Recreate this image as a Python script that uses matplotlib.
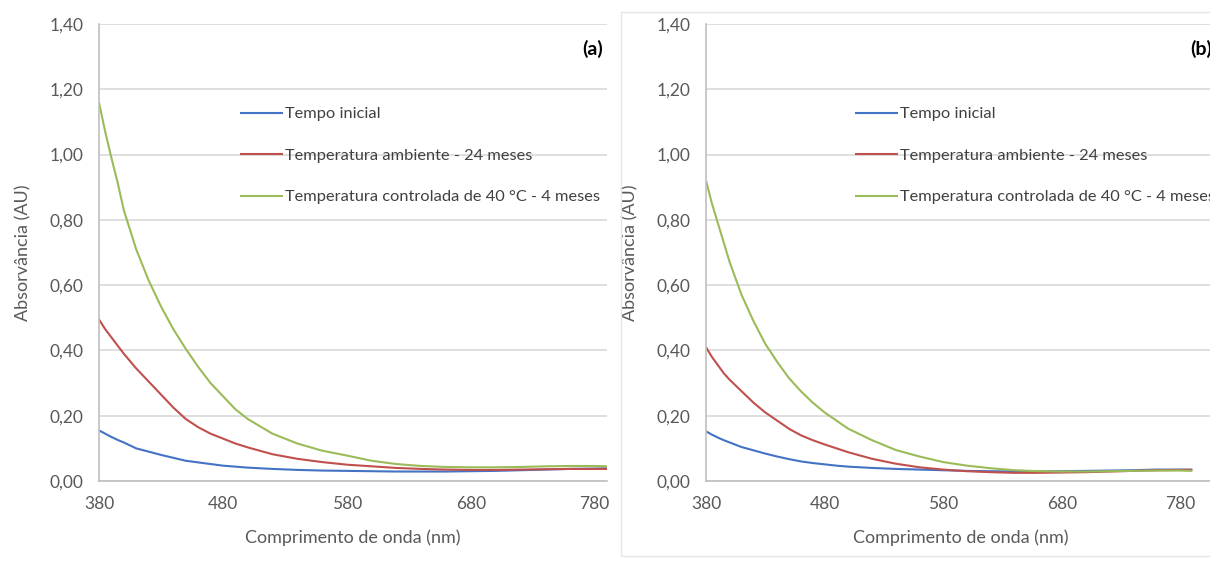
import matplotlib
matplotlib.use("Agg")
import matplotlib.pyplot as plt
from matplotlib.ticker import FuncFormatter, FixedLocator
from matplotlib.patches import Rectangle

# ---------------- data ----------------
wavelength = [380, 385, 390, 395, 400, 410, 420, 430, 440, 450, 460, 470, 480, 490, 500,
              520, 540, 560, 580, 600, 620, 640, 660, 680, 700, 720, 740, 760, 780, 790]

# panel (a)
a_inicial = [0.155, 0.145, 0.135, 0.126, 0.118, 0.100, 0.090, 0.080, 0.071, 0.062, 0.057, 0.052,
             0.047, 0.044, 0.041, 0.037, 0.034, 0.032, 0.031, 0.030, 0.029, 0.029, 0.029, 0.030,
             0.031, 0.033, 0.035, 0.037, 0.038, 0.039]
a_ambiente = [0.495, 0.465, 0.440, 0.415, 0.390, 0.345, 0.305, 0.265, 0.225, 0.190, 0.165, 0.145,
              0.130, 0.115, 0.103, 0.082, 0.068, 0.058, 0.050, 0.045, 0.040, 0.037, 0.035, 0.034,
              0.034, 0.035, 0.036, 0.037, 0.037, 0.037]
a_controlada = [1.160, 1.070, 0.990, 0.915, 0.830, 0.710, 0.615, 0.535, 0.465, 0.405, 0.350, 0.300,
                0.260, 0.220, 0.190, 0.145, 0.115, 0.093, 0.078, 0.062, 0.052, 0.046, 0.043, 0.042,
                0.042, 0.043, 0.045, 0.046, 0.046, 0.045]

# panel (b)
b_inicial = [0.152, 0.142, 0.133, 0.125, 0.118, 0.104, 0.094, 0.084, 0.075, 0.067, 0.060, 0.055,
             0.051, 0.047, 0.044, 0.040, 0.037, 0.035, 0.033, 0.031, 0.030, 0.029, 0.029, 0.030,
             0.031, 0.032, 0.033, 0.035, 0.035, 0.035]
b_ambiente = [0.410, 0.380, 0.355, 0.330, 0.310, 0.275, 0.240, 0.210, 0.185, 0.160, 0.140, 0.125,
              0.112, 0.100, 0.088, 0.068, 0.053, 0.042, 0.035, 0.030, 0.027, 0.025, 0.025, 0.026,
              0.027, 0.029, 0.031, 0.033, 0.034, 0.034]
b_controlada = [0.920, 0.850, 0.790, 0.730, 0.670, 0.570, 0.490, 0.420, 0.365, 0.315, 0.275, 0.240,
                0.210, 0.185, 0.160, 0.125, 0.095, 0.075, 0.058, 0.047, 0.039, 0.033, 0.030, 0.029,
                0.029, 0.030, 0.031, 0.032, 0.032, 0.031]

series_labels = ["Tempo inicial",
                 "Temperatura ambiente - 24 meses",
                 "Temperatura controlada de 40 °C - 4 meses"]
panel_tags = ["(a)", "(b)"]
x_ticks = [380, 480, 580, 680, 780]
y_ticks = [0.0, 0.2, 0.4, 0.6, 0.8, 1.0, 1.2, 1.4]
x_label = "Comprimento de onda (nm)"
y_label = "Absorvância (AU)"

colors = ["#4472C4", "#C0504D", "#9BBB59"]

# ---------------- figure ----------------
plt.rcParams['font.family'] = ['Lato', 'DejaVu Sans']
W, H = 1210, 563
fig = plt.figure(figsize=(W / 100, H / 100), dpi=100)

def px_rect(l, r, t, b):
    return [l / W, 1 - b / H, (r - l) / W, (b - t) / H]

# faint border around panel (b)
fig.patches.append(Rectangle((621 / W, 1 - 556 / H), (1215 - 621) / W, (556 - 12) / H,
                             transform=fig.transFigure, fill=False, edgecolor="#E6E6E6",
                             linewidth=1.0))

ax_a = fig.add_axes(px_rect(99, 607, 24, 481))
ax_b = fig.add_axes(px_rect(706, 1216, 24, 481))

panels = [
    (ax_a, [a_inicial, a_ambiente, a_controlada], (380, 790), 240),
    (ax_b, [b_inicial, b_ambiente, b_controlada], (380, 810), 855),
]

grid_c = "#D9D9D9"
tick_c = "#595959"
fmt = FuncFormatter(lambda v, p: f"{v:.2f}".replace(".", ","))

for i, (ax, data, xl, leg_x) in enumerate(panels):
    for vals, c, lab in zip(data, colors, series_labels):
        ax.plot(wavelength, vals, color=c, lw=1.5, label=lab, solid_capstyle="butt")
    ax.set_xlim(*xl)
    ax.set_ylim(0, 1.4)
    ax.xaxis.set_major_locator(FixedLocator(x_ticks))
    ax.yaxis.set_major_locator(FixedLocator(y_ticks))
    ax.yaxis.set_major_formatter(fmt)
    ax.grid(axis="y", color=grid_c, lw=1.2)
    ax.set_axisbelow(True)
    for s in ["top", "right"]:
        ax.spines[s].set_visible(False)
    for s in ["left", "bottom"]:
        ax.spines[s].set_color("#BFBFBF")
        ax.spines[s].set_linewidth(1.2)
    ax.tick_params(length=0, labelsize=12.5, colors=tick_c)
    ax.tick_params(axis="y", pad=11)
    ax.tick_params(axis="x", pad=11)
    ax.set_xlabel(x_label, fontsize=13, color=tick_c, labelpad=12)
    ax.set_ylabel(y_label, fontsize=13, color=tick_c, labelpad=13)
    ax.text(0.993, 0.945, panel_tags[i], transform=ax.transAxes, ha="right", va="center",
            fontsize=14, fontweight="bold", color="#000000")
    # legend placed in figure pixel coords
    lx = leg_x / W
    ax.legend(loc="upper left", bbox_to_anchor=(lx, 1 - 107 / H), bbox_transform=fig.transFigure,
              frameon=False, fontsize=11.8, handlelength=2.65, handletextpad=0.12,
              labelspacing=1.65, borderaxespad=0, borderpad=0, labelcolor="#404040")

fig.savefig("out.png", dpi=100)
